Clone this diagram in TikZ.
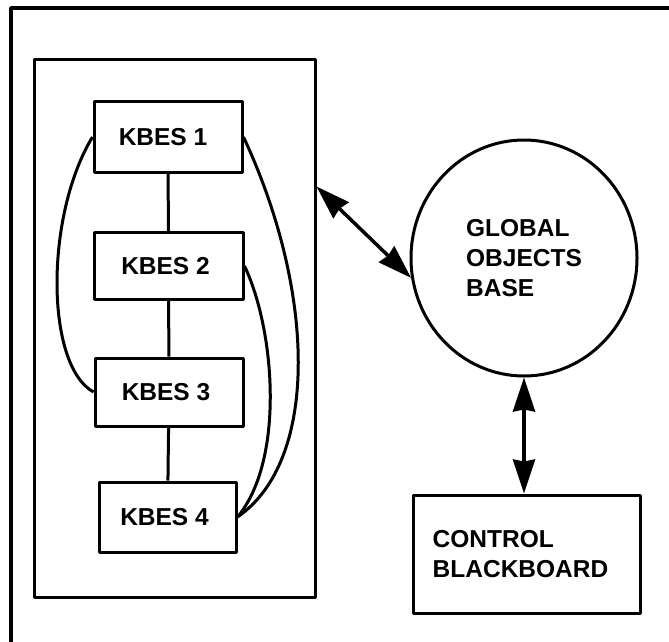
\documentclass[tikz,border=0pt]{standalone}
\usepackage{fontspec}
\setmainfont{Liberation Sans}
\usepackage{tikz}
\usetikzlibrary{arrows.meta,shapes}
\tikzstyle{kbes}=[rectangle,draw,line width=3pt,inner sep=0pt,
			  font=\fontsize{24.5}{30}\selectfont\bfseries]
\tikzstyle{group}=[rectangle,draw,line width=3pt,inner sep=0pt]
\tikzstyle{base}=[ellipse,draw,line width=3pt,inner sep=0pt,align=left,
			  font=\fontsize{24.5}{30}\selectfont\bfseries]
\tikzstyle{link}=[line width=3pt]
\tikzstyle{twoway}=[{Stealth[length=34pt,width=22pt,inset=2pt]}-{Stealth[length=34pt,width=22pt,inset=2pt]},
			  line width=3.5pt]

\begin{document}
\begin{tikzpicture}[x=1pt,y=-1pt,line join=round]
	\useasboundingbox (0,0) rectangle (669,641);
	\draw[line width=3.5pt] (11,650) -- (11,8) -- (680,8);

	\node[group,minimum width=281pt,minimum height=538pt] (grp) at (174.5,328) {};
	\node[kbes,minimum width=148pt,minimum height=71pt] (k1) at (168,137) {KBES 1\kern10pt};
	\node[kbes,minimum width=149pt,minimum height=67pt] (k2) at (168.5,266) {KBES 2\kern6pt};
	\node[kbes,minimum width=148pt,minimum height=68pt] (k3) at (169,392) {KBES 3\kern6pt};
	\node[kbes,minimum width=137pt,minimum height=70pt] (k4) at (167.5,517) {KBES 4\kern6pt};

	\node[base,minimum width=226pt,minimum height=236pt] (gob) at (524,258)
		{GLOBAL\\OBJECTS\\BASE};
	\node[kbes,align=left,minimum width=227pt,minimum height=118pt] (ctrl) at (526.5,554)
		{CONTROL\\BLACKBOARD\kern12pt};

	\draw[link] (k1) -- (k2);
	\draw[link] (k2) -- (k3);
	\draw[link] (k3) -- (k4);
	\draw[link] (k1.west) .. controls (45,215) and (45,365) .. (k3.west);
	\draw[link] (k1.east) .. controls (315,290) and (320,460) .. (k4.east);
	\draw[link] (k2.east) .. controls (275,330) and (285,460) .. (k4.east);

	\draw[twoway] ([yshift=-129pt]grp.north east) -- (gob.190);
	\draw[twoway] (gob.south) -- (gob.south |- ctrl.north);
\end{tikzpicture}
\end{document}
